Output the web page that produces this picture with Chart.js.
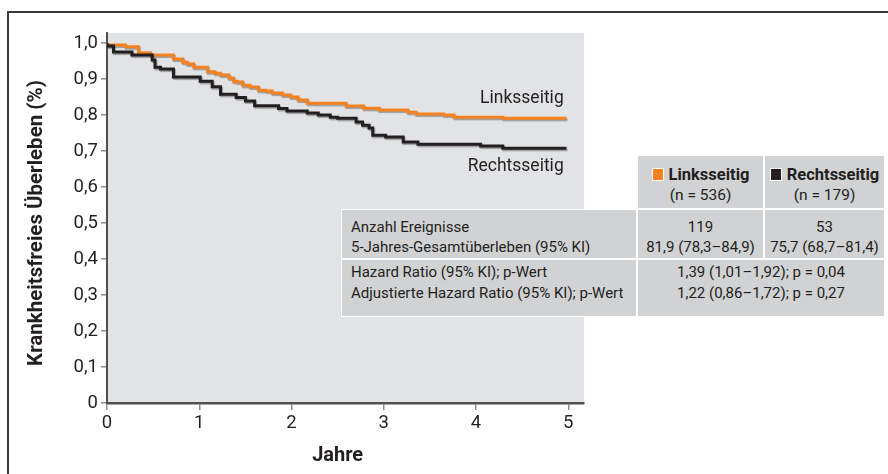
<!DOCTYPE html>
<html>
<head>
<meta charset="utf-8">
<script src="https://cdn.jsdelivr.net/npm/chart.js@4.4.1/dist/chart.umd.min.js"></script>
<style>
  body { margin: 0; background: #fff; }
  #wrap { position: relative; width: 888px; height: 474px; overflow: hidden;
    font-family: Roboto, "Open Sans", sans-serif; color: #231f20; }
  #frame { position: absolute; left: 7px; top: 11px; width: 950px; height: 520px;
    border-left: 2px solid #3a3a3a; border-top: 2px solid #3a3a3a; }
  canvas { position: absolute; left: 0; top: 0; }
  .cell { position: absolute; box-sizing: border-box; border: 1px solid #fff; background: #d1d2d4;
    font-size: 15px; }
  .c { text-align: center; }
  .hd { padding-top: 9px; line-height: 20px; font-size: 15.5px; }
  .hd b { font-size: 16.5px; }
  .ra { padding-top: 7px; line-height: 20px; }
  .rb { padding-top: 2px; line-height: 21px; }
  .lab { padding-left: 9px; }
  .sq { display: inline-block; width: 10px; height: 11px; border: 1px solid #fff; margin-right: 5px;
    vertical-align: -1px; }
  b { font-weight: bold; }
</style>
</head>
<body>
<div id="wrap">
  <div id="frame"></div>
  <canvas id="km" width="888" height="474"></canvas>

  <div class="cell c hd" style="left:637px;top:155px;width:127px;height:54px;">
    <span class="sq" style="background:#f5821f"></span><b>Linksseitig</b><br>(n = 536)</div>
  <div class="cell c hd" style="left:764px;top:155px;width:121px;height:54px;">
    <span class="sq" style="background:#231f20"></span><b>Rechtsseitig</b><br>(n = 179)</div>

  <div class="cell ra lab" style="left:341px;top:209px;width:296px;height:50px;">
    Anzahl Ereignisse<br>5-Jahres-Gesamtüberleben (95% KI)</div>
  <div class="cell c ra" style="left:637px;top:209px;width:127px;height:50px;">
    119<br>81,9 (78,3–84,9)</div>
  <div class="cell c ra" style="left:764px;top:209px;width:121px;height:50px;">
    53<br>75,7 (68,7–81,4)</div>

  <div class="cell rb lab" style="left:341px;top:259px;width:296px;height:58px;">
    Hazard Ratio (95% KI); p-Wert<br>Adjustierte Hazard Ratio (95% KI); p-Wert</div>
  <div class="cell c rb" style="left:637px;top:259px;width:248px;height:58px;">
    1,39 (1,01–1,92); p = 0,04<br>1,22 (0,86–1,72); p = 0,27</div>
</div>

<script>
const FONT = 'Roboto, "Open Sans", sans-serif';
const INK = "#231f20";

// ticks
const xTicks = [0, 1, 2, 3, 4, 5];
const yTicks = [0, 0.1, 0.2, 0.3, 0.4, 0.5, 0.6, 0.7, 0.8, 0.9, 1.0];
const yTickLabels = ["0", "0,1", "0,2", "0,3", "0,4", "0,5", "0,6", "0,7", "0,8", "0,9", "1,0"];

// Linksseitig (n = 536): event times (Jahre) and survival after each step
const leftT = [0, 0.20, 0.34, 0.47, 0.72, 0.82, 0.87, 0.94, 1.09, 1.17, 1.23, 1.32, 1.37, 1.41,
  1.47, 1.55, 1.64, 1.72, 1.79, 1.90, 1.99, 2.07, 2.17, 2.59, 2.78, 2.95, 3.26, 3.35, 3.65,
  3.76, 4.29, 4.44, 4.98];
const leftS = [1.0, 0.995, 0.990, 0.973, 0.967, 0.956, 0.947, 0.942, 0.933, 0.920, 0.916, 0.911,
  0.903, 0.894, 0.892, 0.883, 0.878, 0.869, 0.867, 0.861, 0.856, 0.850, 0.842, 0.833, 0.825,
  0.819, 0.814, 0.808, 0.803, 0.800, 0.794, 0.791, 0.791];

// Rechtsseitig (n = 179)
const rightT = [0, 0.07, 0.27, 0.49, 0.52, 0.58, 0.72, 1.01, 1.14, 1.23, 1.40, 1.50, 1.60, 1.86,
  1.95, 2.17, 2.29, 2.42, 2.50, 2.70, 2.77, 2.84, 2.88, 3.02, 3.21, 3.37, 4.05, 4.29, 4.74, 4.98];
const rightS = [1.0, 0.992, 0.975, 0.967, 0.953, 0.933, 0.928, 0.906, 0.894, 0.879, 0.858, 0.849,
  0.839, 0.826, 0.818, 0.811, 0.806, 0.800, 0.794, 0.791, 0.781, 0.772, 0.764, 0.744, 0.739,
  0.725, 0.719, 0.714, 0.708, 0.708];

const toPoints = (t, s) => t.map((v, i) => ({ x: v, y: s[i] }));

const plotBg = {
  id: "plotBg",
  beforeDraw(chart) {
    const { ctx, chartArea: a } = chart;
    ctx.save();
    ctx.fillStyle = "#e2e3e5";
    ctx.fillRect(a.left, a.top, a.right - a.left, a.bottom - a.top);
    ctx.restore();
  },
};

const lineShadow = {
  id: "lineShadow",
  beforeDatasetsDraw(chart) {
    const ctx = chart.ctx;
    ctx.save();
    ctx.shadowColor = "rgba(70,70,70,0.45)";
    ctx.shadowOffsetX = 1;
    ctx.shadowOffsetY = 1.5;
    ctx.shadowBlur = 1;
  },
  afterDatasetsDraw(chart) {
    chart.ctx.restore();
  },
};

const texts = {
  id: "texts",
  afterDraw(chart) {
    const { ctx, scales } = chart;
    const x = scales.x, y = scales.y;
    ctx.save();
    ctx.fillStyle = INK;
    ctx.textBaseline = "middle";

    ctx.font = "17.5px " + FONT;
    ctx.textAlign = "right";
    ctx.fillText("Linksseitig", x.getPixelForValue(4.95), y.getPixelForValue(0.846));
    ctx.fillText("Rechtsseitig", x.getPixelForValue(4.95), y.getPixelForValue(0.658));

    ctx.font = "bold 20px " + FONT;
    ctx.textAlign = "center";
    ctx.fillText("Jahre", x.getPixelForValue(2.5), 456);

    ctx.font = "bold 20.5px " + FONT;
    ctx.translate(37, (y.getPixelForValue(0) + y.getPixelForValue(1)) / 2);
    ctx.rotate(-Math.PI / 2);
    ctx.fillText("Krankheitsfreies Überleben (%)", 0, 0);
    ctx.restore();
  },
};

new Chart(document.getElementById("km"), {
  type: "line",
  data: {
    datasets: [
      {
        label: "Rechtsseitig",
        data: toPoints(rightT, rightS),
        borderColor: INK,
        borderWidth: 3,
        pointRadius: 0,
        stepped: "after",
      },
      {
        label: "Linksseitig",
        data: toPoints(leftT, leftS),
        borderColor: "#f5821f",
        borderWidth: 3,
        pointRadius: 0,
        stepped: "after",
      },
    ],
  },
  options: {
    responsive: false,
    animation: false,
    devicePixelRatio: 1,
    layout: { padding: { left: 0, top: 33, right: 304, bottom: 0 } },
    plugins: { legend: { display: false }, tooltip: { enabled: false } },
    scales: {
      x: {
        type: "linear",
        min: 0,
        max: 5.17,
        afterBuildTicks: (s) => { s.ticks = xTicks.map((v) => ({ value: v })); },
        afterFit: (s) => { s.height = 71; },
        grid: { drawOnChartArea: false, tickLength: 7, color: "#8c8c8c", lineWidth: 1.5 },
        border: { color: "#505050", width: 2.5 },
        ticks: { color: INK, font: { family: FONT, size: 18.5 }, padding: 2, maxRotation: 0 },
      },
      y: {
        min: 0,
        max: 1.028,
        afterBuildTicks: (s) => { s.ticks = yTicks.map((v) => ({ value: v })); },
        afterFit: (s) => { s.width = 107; },
        grid: { drawOnChartArea: false, tickLength: 6, color: "#8c8c8c", lineWidth: 1.5 },
        border: { color: "#505050", width: 2 },
        ticks: {
          color: INK,
          font: { family: FONT, size: 18.5 },
          padding: 3,
          callback: (v, i) => yTickLabels[i],
        },
      },
    },
  },
  plugins: [plotBg, lineShadow, texts],
});
</script>
</body>
</html>
